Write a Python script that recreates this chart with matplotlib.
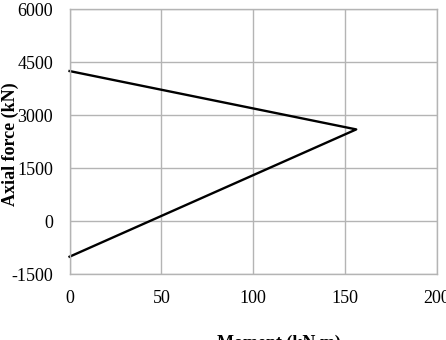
import matplotlib
matplotlib.use('Agg')
import matplotlib.pyplot as plt

# interaction diagram points
moment = [0, 156, 0]
axial = [4250, 2600, -1000]

x_ticks = [0, 50, 100, 150, 200]
y_ticks = [-1500, 0, 1500, 3000, 4500, 6000]

plt.rcParams['font.family'] = ['Liberation Serif', 'DejaVu Serif']
plt.rcParams['axes.unicode_minus'] = False

fig = plt.figure(figsize=(4.46, 3.40), dpi=100)
ax = fig.add_axes([0.156, 0.193, 0.824, 0.780])

ax.plot(moment, axial, color='black', linewidth=1.7, clip_on=False)

ax.set_xlim(0, 200)
ax.set_ylim(-1500, 6000)
ax.set_xticks(x_ticks)
ax.set_yticks(y_ticks)
ax.tick_params(length=0, labelsize=13, pad=11)
ax.tick_params(axis='y', pad=12)
ax.grid(True, color='#b4b4b4', linewidth=1.0)
ax.set_axisbelow(True)
for s in ax.spines.values():
    s.set_color('#b4b4b4')
    s.set_linewidth(1.0)

fig.text(10 / 446, 1 - 144 / 340, 'Axial force (kN)', fontsize=13,
         fontweight='bold', rotation=90, ha='center', va='center')
fig.text(279 / 446, 1 - 335 / 340, 'Moment (kN.m)', fontsize=13,
         fontweight='bold', ha='center', va='top')

fig.savefig('out.png', dpi=100)
